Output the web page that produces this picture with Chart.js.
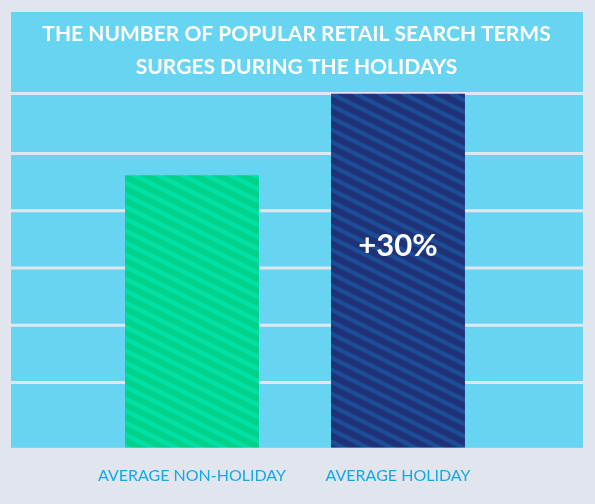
<!DOCTYPE html>
<html>
<head>
<meta charset="utf-8">
<script src="https://cdn.jsdelivr.net/npm/chart.js@4.4.0/dist/chart.umd.min.js"></script>
<style>
  html, body { margin: 0; padding: 0; background: #e1e6ee; }
  #wrap { width: 595px; height: 504px; }
</style>
</head>
<body>
<div id="wrap"><canvas id="surgeChart"></canvas></div>
<script>
// --- data ---
const titleLines = ['THE NUMBER OF POPULAR RETAIL SEARCH TERMS', 'SURGES DURING THE HOLIDAYS'];
const categories = ['AVERAGE NON-HOLIDAY', 'AVERAGE HOLIDAY'];
const searchTerms = [100, 130];           // relative index, holiday = +30%
const barLabels = ['', '+30%'];
const gridValues = [24, 45, 66, 87, 108, 130];

// diagonal stripe fill for the bars
function stripes(base, light) {
    const c = document.createElement('canvas');
    c.width = 24; c.height = 12;
    const g = c.getContext('2d');
    g.fillStyle = base;
    g.fillRect(0, 0, 24, 12);
    g.strokeStyle = light;
    g.lineWidth = 4.5;
    for (let k = -2; k <= 2; k++) {
        g.beginPath();
        g.moveTo(-24, k * 12 - 12);
        g.lineTo(48, k * 12 + 24);
        g.stroke();
    }
    return g.createPattern(c, 'repeat');
}

const greenFill = stripes('#00d28c', '#00e0a6');
const navyFill = stripes('#1e3278', '#1c4c96');

// cyan panel, title, grid bands in the page colour, bar label
const panelPlugin = {
    id: 'panel',
    beforeDraw(chart) {
        const ctx = chart.ctx;
        const area = chart.chartArea;
        ctx.save();
        ctx.fillStyle = '#67d5f2';
        ctx.fillRect(11, 12, chart.width - 23, area.bottom - 12);
        // title
        ctx.fillStyle = '#ffffff';
        ctx.font = 'bold 21px Lato, "Open Sans", sans-serif';
        ctx.textAlign = 'center';
        ctx.textBaseline = 'middle';
        titleLines.forEach((t, i) => {
            ctx.fillText(t, chart.width / 2 - 1, 34 + i * 33, 516);
        });
        ctx.restore();
    },
    beforeDatasetsDraw(chart) {
        const ctx = chart.ctx;
        const y = chart.scales.y;
        ctx.save();
        ctx.strokeStyle = '#e1e6ee';
        ctx.lineWidth = 3;
        gridValues.forEach(v => {
            const py = y.getPixelForValue(v);
            ctx.beginPath();
            ctx.moveTo(11, py);
            ctx.lineTo(chart.width - 12, py);
            ctx.stroke();
        });
        ctx.restore();
    },
    afterDatasetsDraw(chart) {
        const ctx = chart.ctx;
        const meta = chart.getDatasetMeta(0);
        ctx.save();
        ctx.fillStyle = '#ffffff';
        ctx.font = 'bold 31px Lato, "Open Sans", sans-serif';
        ctx.textAlign = 'center';
        ctx.textBaseline = 'middle';
        meta.data.forEach((bar, i) => {
            if (!barLabels[i]) return;
            const yy = bar.y + (bar.base - bar.y) * 0.43;
            ctx.fillText(barLabels[i], bar.x, yy);
        });
        ctx.restore();
    }
};

new Chart(document.getElementById('surgeChart'), {
    type: 'bar',
    data: {
        labels: categories,
        datasets: [{
            data: searchTerms,
            backgroundColor: [greenFill, navyFill],
            borderWidth: 0,
            barPercentage: 0.65,
            categoryPercentage: 1
        }]
    },
    options: {
        responsive: true,
        maintainAspectRatio: false,
        animation: false,
        layout: {
            padding: { left: 89, right: 94, top: 93.5, bottom: 1 }
        },
        plugins: {
            legend: { display: false },
            tooltip: { enabled: false },
            title: { display: false }
        },
        scales: {
            x: {
                grid: { display: false, drawTicks: false },
                border: { display: false },
                ticks: {
                    color: '#15a8e8',
                    padding: 18,
                    font: { family: 'Lato, "Open Sans", sans-serif', size: 16 }
                }
            },
            y: {
                display: false,
                min: 0,
                max: 130
            }
        }
    },
    plugins: [panelPlugin]
});
</script>
</body>
</html>
